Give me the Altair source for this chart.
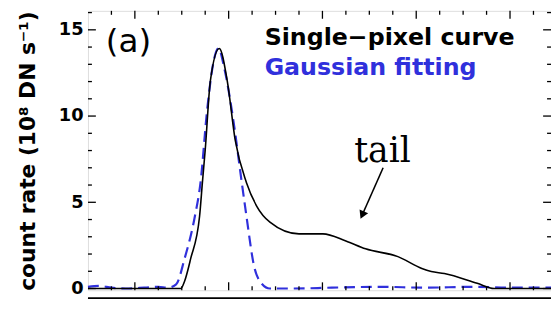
import altair as alt
import pandas as pd

# ---- data ----
curve_x = [5, 10, 14.9, 15.3, 15.95, 16.9, 17.2, 17.5, 18.05, 19.0, 19.85, 20.7, 21.9,
           23.0, 24.4, 27.5, 30.05, 32.5, 34.6, 38.05, 40.6, 41.6, 43.0, 46.5, 48.3, 54.37]
curve_y = [0, 0, 0, 0.42, 1.73, 4.19, 6.14, 8.03, 12.04, 13.92, 12.04, 8.60, 6.14,
           4.77, 3.85, 3.17, 3.17, 2.76, 2.30, 1.85, 1.16, 0.99, 0.87, 0.30, 0, 0]

fit_x = [5, 6.2, 7.5, 9, 11, 12.5, 13.5, 14.4, 15.3, 16.4, 17.0, 17.7, 18.4, 18.9,
         19.6, 20.5, 21.4, 21.9, 22.7, 23.5, 24.4, 27, 31, 36, 41, 46, 50, 54.37]
fit_y = [0.1, 0.15, 0.05, 0, 0.05, 0.1, 0.05, 0.24, 1.73, 4.19, 6.14, 10.32, 13.18, 13.92,
         12.61, 9.75, 6.14, 4.19, 1.33, 0.30, 0, 0, 0.05, 0.1, 0.05, 0.1, 0.05, 0.05]

y_major = [0, 5, 10, 15]
y_minor = [1, 2, 3, 4, 6, 7, 8, 9, 11, 12, 13, 14, 16]
x_major = [10, 20, 30, 40, 50]
x_minor = [7.5, 12.5, 15, 17.5, 22.5, 25, 27.5, 32.5, 35, 37.5, 42.5, 45, 47.5, 52.5]

panel_label = ["(a)"]
panel_label_pos = [6.9, 14.3]
legend_text = ["Single\u2212pixel curve", "Gaussian fitting"]
legend_x = [23.84, 23.84]
legend_y = [14.5, 12.78]
tail_text = ["tail"]
tail_pos = [36.4, 7.34]
arrow_x = [36.47, 34.24]
arrow_y = [7.0, 4.26]

W, H = 469, 283
XDOM = [5, 54.37]
YDOM = [-0.1, 16.1]
BLUE = "#3030dc"

xscale = alt.Scale(domain=XDOM, nice=False, zero=False)
yscale = alt.Scale(domain=YDOM, nice=False, zero=False)
yaxis = alt.Axis(values=y_major, labelFont="DejaVu Sans", labelFontWeight="bold",
                 labelFontSize=18, labelColor="black", ticks=False, tickSize=0,
                 domain=False, grid=False, labelPadding=5,
                 title="count rate (10\u2078 DN s\u207b\u00b9)", titleFont="DejaVu Sans",
                 titleFontWeight="bold", titleFontSize=22, titleColor="black",
                 titleX=-61, titleY=H / 2, titleAlign="center", titleBaseline="middle")


def X(f):
    return alt.X(f, type="quantitative", scale=xscale, axis=None)


def Y(f):
    return alt.Y(f, type="quantitative", scale=yscale, axis=yaxis)


curve = pd.DataFrame({"x": curve_x, "y": curve_y})
fit = pd.DataFrame({"x": fit_x, "y": fit_y})

layers = []
layers.append(alt.Chart(fit).mark_line(color=BLUE, strokeWidth=2.2, strokeDash=[11, 6],
                                       interpolate="monotone").encode(x=X("x"), y=Y("y")))
layers.append(alt.Chart(curve).mark_line(color="black", strokeWidth=1.6,
                                         interpolate="monotone").encode(x=X("x"), y=Y("y")))

# inward ticks
for vals, L in ((y_major, 8), (y_minor, 4)):
    d = pd.DataFrame({"v": vals})
    layers.append(alt.Chart(d).mark_rule(color="black", strokeWidth=1.3).encode(
        y=Y("v"), x=alt.value(0), x2=alt.value(L)))
    layers.append(alt.Chart(d).mark_rule(color="black", strokeWidth=1.3).encode(
        y=Y("v"), x=alt.value(W), x2=alt.value(W - L)))
for vals, L in ((x_major, 8), (x_minor, 4)):
    d = pd.DataFrame({"v": vals})
    layers.append(alt.Chart(d).mark_rule(color="black", strokeWidth=1.3).encode(
        x=X("v"), y=alt.value(H), y2=alt.value(H - L)))
    layers.append(alt.Chart(d).mark_rule(color="black", strokeWidth=1.3).encode(
        x=X("v"), y=alt.value(0), y2=alt.value(L)))

# top edge of the next (cropped) panel
one = pd.DataFrame({"k": [0]})
layers.append(alt.Chart(one).mark_rule(color="black", strokeWidth=1.8).encode(
    x=alt.value(0), x2=alt.value(W), y=alt.value(H + 8)))

# annotations
pl = pd.DataFrame({"x": [panel_label_pos[0]], "y": [panel_label_pos[1]], "t": panel_label})
layers.append(alt.Chart(pl).mark_text(font="DejaVu Sans", fontSize=33, align="left",
                                      baseline="middle", color="black").encode(
    x=X("x"), y=Y("y"), text="t:N"))
lg = pd.DataFrame({"x": legend_x, "y": legend_y, "t": legend_text,
                   "c": ["black", BLUE]})
layers.append(alt.Chart(lg).mark_text(font="DejaVu Sans", fontWeight="bold", fontSize=24,
                                      align="left", baseline="middle").encode(
    x=X("x"), y=Y("y"), text="t:N", color=alt.Color("c:N", scale=None)))
tl = pd.DataFrame({"x": [tail_pos[0]], "y": [tail_pos[1]], "t": tail_text})
layers.append(alt.Chart(tl).mark_text(font="DejaVu Serif", fontSize=35, align="center",
                                      baseline="alphabetic", color="black").encode(
    x=X("x"), y=Y("y"), text="t:N"))
ar = pd.DataFrame({"x": arrow_x, "y": arrow_y})
layers.append(alt.Chart(ar).mark_line(color="black", strokeWidth=1.6).encode(
    x=X("x"), y=Y("y")))
layers.append(alt.Chart(ar.iloc[[1]]).mark_point(shape="triangle-up", filled=True, size=90,
                                                 angle=204, color="black", opacity=1).encode(
    x=X("x"), y=Y("y")))

chart = alt.layer(*layers).properties(
    width=W, height=H,
    autosize=alt.AutoSizeParams(type="none"),
    padding={"left": 81, "top": 1, "right": 0, "bottom": 9},
).configure_view(stroke="black", strokeWidth=1.8).configure(background="white")

chart.save("out.html", embed_options={"renderer": "svg", "actions": False})
